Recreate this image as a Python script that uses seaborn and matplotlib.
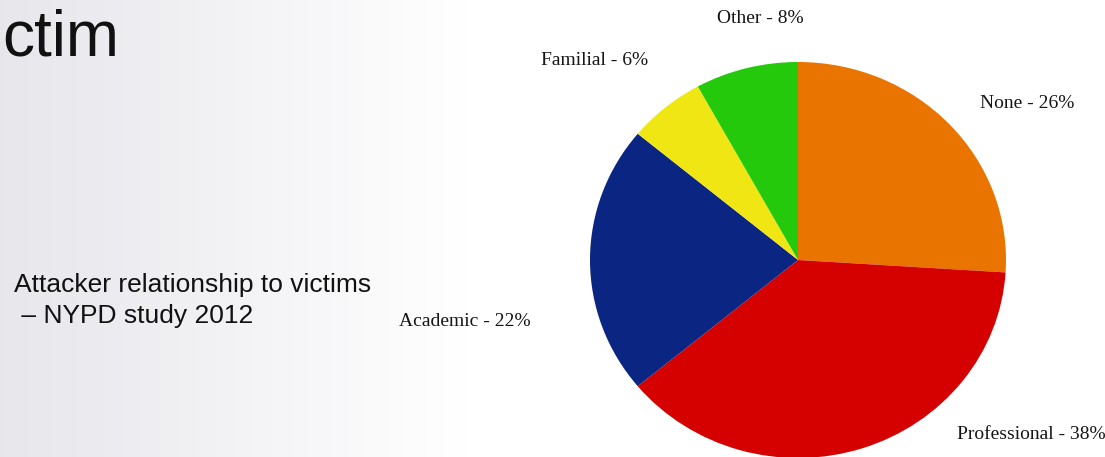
import numpy as np
import matplotlib
matplotlib.use("Agg")
import matplotlib.pyplot as plt
import seaborn as sns

# ── data ──
categories = ["None", "Professional", "Academic", "Familial", "Other"]
shares = [26, 38, 22, 6, 8]
slice_colors = ["#E97400", "#D50000", "#0B2582", "#F0E614", "#24C90C"]
# label anchor points (pie data coords, radius = 1)
label_xy = [(1.10, 0.79), (1.12, -0.88), (-1.60, -0.31), (-0.98, 1.01), (-0.18, 1.22)]

sns.set_theme(style="white")
plt.rcParams["font.family"] = ["Liberation Sans", "DejaVu Sans"]

fig = plt.figure(figsize=(11.05, 4.57), dpi=100)

# ── slide background: light grey fading to white ──
bg = fig.add_axes([0, 0, 1, 1])
bg.set_axis_off()
grad = np.linspace(0, 1, 256)
grad = np.clip(grad / 0.42, 0, 1)
rgb = np.array([0.905, 0.905, 0.925])[None, :] * (1 - grad[:, None]) + grad[:, None]
bg.imshow(rgb[None, :, :], extent=[0, 1, 0, 1], aspect="auto")
bg.set_xlim(0, 1)
bg.set_ylim(0, 1)

bg.text(0.002, 1 - 55 / 457, "ctim", fontsize=46, color="#111111", ha="left", va="baseline")
bg.text(0.013, 1 - 292 / 457, "Attacker relationship to victims", fontsize=19,
        color="#111111", ha="left", va="baseline")
bg.text(0.013, 1 - 323 / 457, " \u2013 NYPD study 2012", fontsize=19,
        color="#111111", ha="left", va="baseline")

# ── pie ──
ax = fig.add_axes([590 / 1105, -1 / 457, 416 / 1105, 396 / 457])
labels = [f"{c} - {v}%" for c, v in zip(categories, shares)]
wedges, texts = ax.pie(shares, colors=slice_colors, startangle=90, counterclock=False,
                       labels=labels, wedgeprops=dict(linewidth=0))
for t, (x, y) in zip(texts, label_xy):
    t.set_position((x, y))
    t.set_ha("center")
    t.set_va("center")
    t.set_fontfamily(["Liberation Serif", "DejaVu Serif"])
    t.set_fontsize(14)
    t.set_color("#151515")
    t.set_clip_on(False)
ax.set_aspect("auto")
ax.set_xlim(-1, 1)
ax.set_ylim(-1, 1)
ax.set_axis_off()

fig.savefig("out.png", dpi=100)
